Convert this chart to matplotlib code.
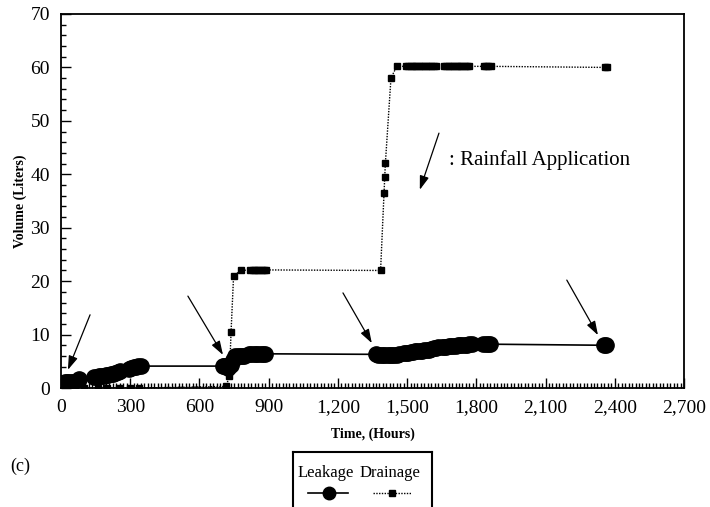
import matplotlib
matplotlib.use("Agg")
import matplotlib.pyplot as plt
from matplotlib.ticker import MultipleLocator, FuncFormatter

# cumulative leakage, liters
leak_t = [0, 8, 16, 24, 32, 42, 50, 78,
          145, 155, 165, 175, 185, 195, 205, 215, 225, 235, 245, 255,
          295, 305, 315, 325, 335, 345,
          700, 708, 716, 724, 735, 745, 755, 765, 775, 785, 795,
          815, 825, 835, 845, 855, 865, 875, 885,
          1365, 1375, 1385, 1395, 1405, 1415, 1425, 1435, 1445, 1455, 1465,
          1485, 1495, 1505, 1515, 1525, 1535, 1545, 1555, 1565, 1575, 1585, 1595, 1605, 1615, 1625, 1635,
          1650, 1660, 1670, 1680, 1690, 1700, 1710, 1720, 1730, 1740, 1750, 1760, 1770, 1780,
          1830, 1840, 1850, 1860,
          2355, 2362]
leak_v = [1.0, 1.0, 1.1, 1.1, 1.1, 1.2, 1.2, 1.6,
          2.1, 2.1, 2.2, 2.2, 2.3, 2.4, 2.5, 2.6, 2.7, 2.8, 3.0, 3.2,
          3.6, 3.8, 3.9, 4.0, 4.1, 4.1,
          4.1, 4.1, 4.1, 3.8, 4.3, 5.3, 5.9, 6.0, 6.0, 6.0, 6.0,
          6.3, 6.3, 6.3, 6.3, 6.3, 6.3, 6.3, 6.4,
          6.3, 6.2, 6.2, 6.2, 6.2, 6.2, 6.2, 6.2, 6.2, 6.2, 6.3,
          6.5, 6.6, 6.6, 6.7, 6.8, 6.9, 6.9, 7.0, 7.0, 7.1, 7.2, 7.2, 7.3, 7.4, 7.5, 7.6,
          7.6, 7.7, 7.7, 7.8, 7.8, 7.9, 7.9, 8.0, 8.0, 8.0, 8.1, 8.1, 8.2, 8.2,
          8.2, 8.2, 8.2, 8.2,
          8.0, 8.0]

# cumulative drainage, liters
drain_t = [0, 30, 60, 100, 160, 200, 250, 300, 340, 715,
           730, 737, 748, 780,
           820, 830, 840, 850, 860, 870, 880, 890,
           1385, 1400, 1403, 1406, 1430, 1455,
           1495, 1505, 1515, 1525, 1535, 1545, 1555, 1565, 1575, 1585, 1595, 1605, 1615, 1625,
           1660, 1670, 1680, 1690, 1700, 1710, 1720, 1730, 1740, 1750, 1760, 1770,
           1832, 1842, 1852, 1862,
           2358, 2366]
drain_v = [0, 0, 0, 0, 0, 0, 0, 0, 0, 0.3,
           2.2, 10.5, 21.0, 22.0,
           22.1, 22.1, 22.1, 22.1, 22.1, 22.1, 22.1, 22.1,
           22.0, 36.5, 39.5, 42.2, 58.0, 60.2,
           60.2, 60.2, 60.2, 60.2, 60.2, 60.2, 60.2, 60.2, 60.2, 60.2, 60.2, 60.2, 60.2, 60.2,
           60.2, 60.2, 60.2, 60.2, 60.2, 60.2, 60.2, 60.2, 60.2, 60.2, 60.2, 60.2,
           60.2, 60.2, 60.2, 60.2,
           60.0, 60.0]

# rainfall application arrows: (tail_t, tail_v, head_t, head_v)
rain_arrows = [(126, 13.7, 30, 3.4),
               (550, 17.2, 702, 6.2),
               (1222, 17.8, 1347, 8.4),
               (2192, 20.2, 2327, 9.9)]
key_arrow = (1638, 47.7, 1555, 37.1)

plt.rcParams['font.family'] = ['Liberation Serif', 'DejaVu Serif']

fig = plt.figure(figsize=(7.1, 5.07), dpi=100)
ax = fig.add_axes([0.0859, 0.2347, 0.8775, 0.7377])

ax.plot(drain_t, drain_v, color='black', linestyle=(0, (1, 1)), linewidth=1.0,
        marker='s', markersize=5, zorder=2)
ax.plot(leak_t, leak_v, color='black', linestyle='-', linewidth=1.2,
        marker='o', markersize=11, zorder=3)

for tt, tv, ht, hv in rain_arrows + [key_arrow]:
    ax.annotate('', xy=(ht, hv), xytext=(tt, tv),
                arrowprops=dict(arrowstyle='-|>,head_length=0.6,head_width=0.2',
                                color='black', lw=0.9,
                                mutation_scale=14, shrinkA=0, shrinkB=0))
ax.text(1680, 42.7, ': Rainfall Application', fontsize=15, va='center', ha='left')

ax.set_xlim(0, 2700)
ax.set_ylim(0, 70)
ax.xaxis.set_major_locator(MultipleLocator(300))
ax.xaxis.set_minor_locator(MultipleLocator(15))
ax.yaxis.set_major_locator(MultipleLocator(10))
ax.yaxis.set_minor_locator(MultipleLocator(2))
ax.xaxis.set_major_formatter(FuncFormatter(lambda v, p: f'{int(v):,}'))
ax.tick_params(which='both', direction='in', labelsize=14, width=1)
ax.tick_params(which='major', length=7)
ax.tick_params(which='minor', length=3.5)
ax.tick_params(axis='x', top=False, pad=8)
ax.tick_params(axis='y', right=False, pad=8)
for s in ax.spines.values():
    s.set_linewidth(1.3)

ax.set_xlabel('Time, (Hours)', fontsize=10, fontweight='bold', labelpad=8)
ax.set_ylabel('Volume (Liters)', fontsize=10, fontweight='bold', labelpad=2)

# legend box with labels above the sample lines
lax = fig.add_axes([293 / 710, -0.02, 139 / 710, (507 - 452) / 507 + 0.02])
lax.set_xlim(0, 139)
lax.set_ylim(0, 65)
lax.set_xticks([])
lax.set_yticks([])
for s in lax.spines.values():
    s.set_linewidth(1.5)
lax.text(33, 44, 'Leakage', ha='center', va='center', fontsize=12)
lax.text(97, 44, 'Drainage', ha='center', va='center', fontsize=12)
lax.plot([15, 55], [24, 24], color='black', linewidth=1.2)
lax.plot([36], [24], color='black', marker='o', markersize=9)
lax.plot([80, 118], [24, 24], color='black', linestyle=(0, (1, 1)), linewidth=1.0)
lax.plot([99], [24], color='black', marker='s', markersize=4.5)

fig.text(10 / 710, 1 - 466 / 507, '(c)', fontsize=13, va='center', ha='left')

fig.savefig('out.png', dpi=100)
